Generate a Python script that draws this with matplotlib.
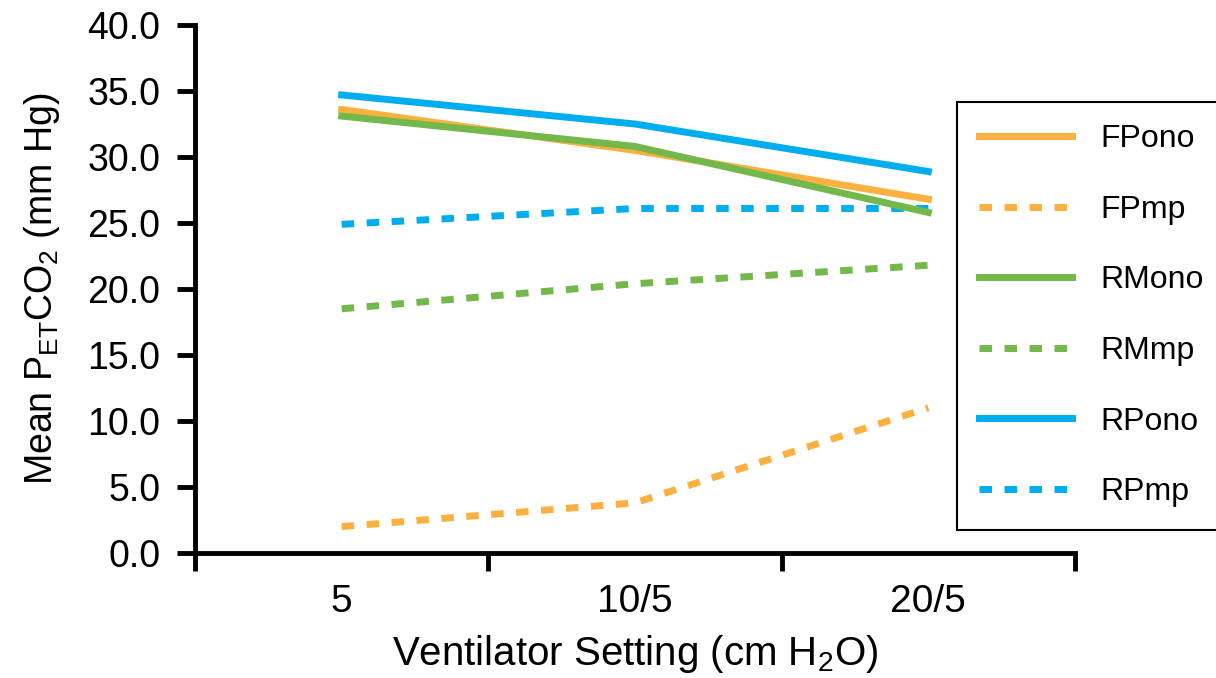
import matplotlib.pyplot as plt

plt.rcParams['font.family'] = ['Liberation Sans', 'DejaVu Sans']
plt.rcParams['mathtext.fontset'] = 'custom'
plt.rcParams['mathtext.rm'] = 'Liberation Sans'
plt.rcParams['mathtext.default'] = 'regular'

settings = ["5", "10/5", "20/5"]
fp_ono = [33.6, 30.5, 26.8]
fp_mp = [2.0, 3.8, 11.0]
rm_ono = [33.1, 30.8, 25.8]
rm_mp = [18.5, 20.4, 21.8]
rp_ono = [34.7, 32.5, 28.9]
rp_mp = [24.9, 26.1, 26.1]

orange = "#FBB040"
green = "#72B84B"
blue = "#00AEEF"
dots = (0, (1.8, 1.8))

fig = plt.figure(figsize=(12.16, 6.78), dpi=100)
ax = fig.add_axes([195 / 1216, 1 - 553 / 678, 880 / 1216, 528 / 678])

x = range(len(settings))
lw = 5
ax.plot(x, fp_ono, color=orange, lw=lw, label="FPono")
ax.plot(x, fp_mp, color=orange, lw=lw, ls=dots, label="FPmp")
ax.plot(x, rp_mp, color=blue, lw=lw, ls=dots, label="RPmp", zorder=1.9)
ax.plot(x, rm_ono, color=green, lw=lw, label="RMono")
ax.plot(x, rm_mp, color=green, lw=lw, ls=dots, label="RMmp")
ax.plot(x, rp_ono, color=blue, lw=lw, label="RPono")

ax.set_xlim(-0.5, 2.5)
ax.set_ylim(0, 40)
ax.set_yticks(range(0, 41, 5))
ax.set_yticklabels([f"{v:.1f}" for v in range(0, 41, 5)], fontsize=27)

ax.set_xticks([-0.5, 0.5, 1.5, 2.5])
ax.set_xticklabels([])
ax.set_xticks(list(x), minor=True)
ax.set_xticklabels(settings, minor=True, fontsize=28)
ax.tick_params(axis='x', which='minor', length=0, pad=22)
ax.tick_params(axis='both', which='major', length=13, width=3.5, direction='out')
ax.tick_params(axis='y', pad=12)

for s in ['top', 'right']:
    ax.spines[s].set_visible(False)
for s in ['left', 'bottom']:
    ax.spines[s].set_linewidth(3.5)

ax.set_ylabel("Mean P$_{ET}$CO$_2$ (mm Hg)", fontsize=27, labelpad=18)
ax.set_xlabel("Ventilator Setting (cm H$_2$O)", fontsize=29, labelpad=10)

handles, labels = ax.get_legend_handles_labels()
order = ["FPono", "FPmp", "RMono", "RMmp", "RPono", "RPmp"]
hmap = dict(zip(labels, handles))
leg = ax.legend([hmap[k] for k in order], order, loc='upper left',
                bbox_to_anchor=(957 / 1216, 1 - 102 / 678), bbox_transform=fig.transFigure,
                fontsize=23, frameon=True, fancybox=False, framealpha=1,
                handlelength=2.9, handletextpad=0.9, labelspacing=1.27,
                borderpad=0.7, borderaxespad=0)
leg.get_frame().set_edgecolor('black')
leg.get_frame().set_linewidth(1.5)

fig.savefig("out.png", dpi=100)
